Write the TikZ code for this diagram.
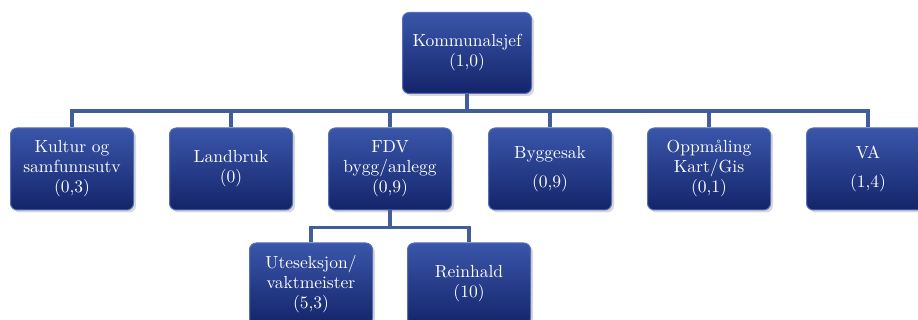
\documentclass[tikz,border=0pt]{standalone}
\usetikzlibrary{shadows}
\definecolor{boxtop}{RGB}{58,86,170}
\definecolor{boxmid}{RGB}{26,48,132}
\definecolor{boxbot}{RGB}{20,36,106}
\definecolor{boxedge}{RGB}{84,112,184}
\definecolor{linkblue}{RGB}{66,94,154}
\tikzset{
  unit/.style={rounded corners=4pt, draw=boxedge, line width=0.6pt,
    top color=boxtop, middle color=boxmid, bottom color=boxbot,
    drop shadow={opacity=0.3, shadow xshift=1.5pt, shadow yshift=-1.5pt},
    text=white, align=center, inner sep=1pt, font=\fontsize{10.5}{12}\selectfont,
    minimum width=73.8pt, minimum height=49.2pt},
  link/.style={draw=linkblue, line width=2.2pt}
}
\begin{document}
\begin{tikzpicture}[x={(0.6pt,0pt)}, y={(0pt,-0.6pt)}]
  \useasboundingbox (0,0) rectangle (918,320);
  \clip (0,0) rectangle (918,320);
  % Top
  \node[unit, minimum width=77.4pt, minimum height=48.6pt] (sjef) at (467,53) {Kommunalsjef\\(1,0)};
  % Level 1
  \node[unit] (kultur) at (72,169) {Kultur og\\samfunnsutv\\(0,3)};
  \node[unit] (landbruk) at (231,169) {Landbruk\\(0)};
  \node[unit] (fdv) at (390,169) {FDV\\bygg/anlegg\\(0,9)};
  \node[unit] (bygge) at (550,169) {Byggesak\\[5pt](0,9)};
  \node[unit] (oppm) at (709,169) {Oppm\aa ling\\Kart/Gis\\(0,1)};
  \node[unit] (va) at (868,169) {VA\\[5pt](1,4)};
  % Level 2
  \node[unit] (ute) at (311,284) {Uteseksjon/\\vaktmeister\\(5,3)};
  \node[unit] (rein) at (469,284) {Reinhald\\(10)};
  % Links
  \foreach \n in {kultur,landbruk,fdv,bygge,oppm,va}
    \draw[link] (sjef.south) -- ++(0,17) -| (\n.north);
  \foreach \n in {ute,rein}
    \draw[link] (fdv.south) -- ++(0,17) -| (\n.north);
\end{tikzpicture}
\end{document}
